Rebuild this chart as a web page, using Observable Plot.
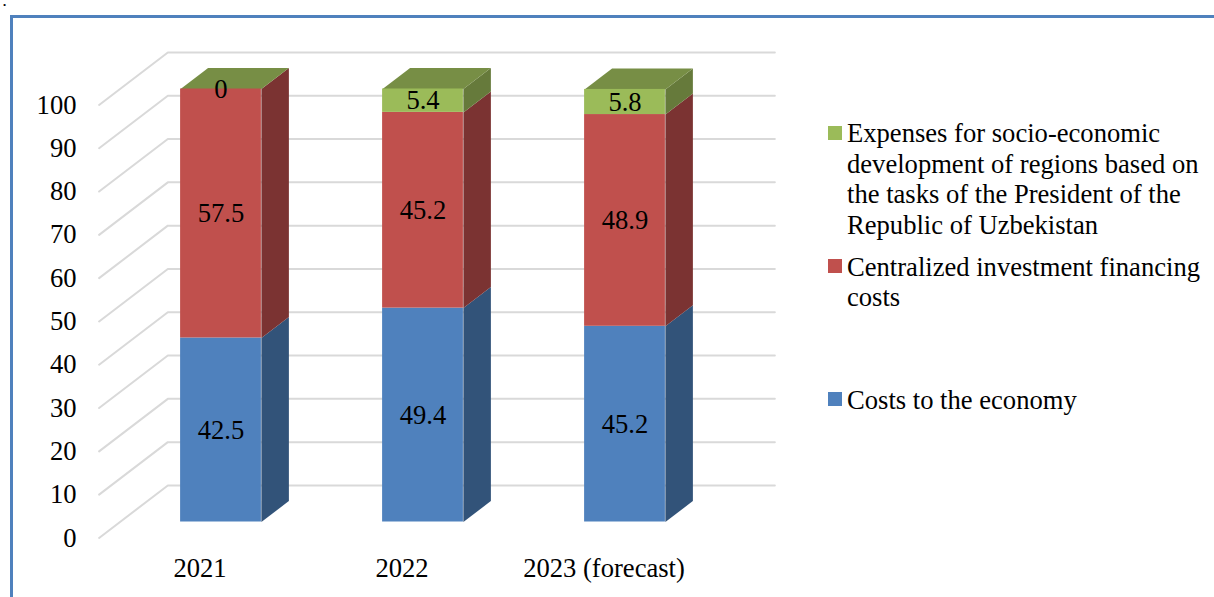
<!DOCTYPE html>
<html>
<head>
<meta charset="utf-8">
<script src="https://cdn.jsdelivr.net/npm/d3@7"></script>
<script src="https://cdn.jsdelivr.net/npm/@observablehq/plot@0.6"></script>
<style>
  html, body { margin: 0; padding: 0; background: #fff; overflow: hidden; }
  #page { position: relative; width: 1214px; height: 597px; overflow: hidden;
          font-family: "Liberation Serif", serif; color: #000; }
  #frame { position: absolute; left: 10px; top: 15px; right: -10px; bottom: -10px;
           border-left: 3px solid #4f81bd; border-top: 3px solid #4f81bd; }
  #chart { position: absolute; left: 0; top: 0; }
  .mark-dot { position: absolute; left: 3px; top: 0; font-size: 9px; line-height: 10px; }
  .entry { position: absolute; left: 847px; font-size: 26.6px; line-height: 30.7px; white-space: nowrap; }
  .swatch { position: absolute; left: 828px; width: 14px; height: 14px; }
</style>
</head>
<body>
<div id="page">
  <div id="frame"></div>
  <div class="mark-dot">•</div>
  <div id="chart"></div>
</div>
<script>
const years = ["2021", "2022", "2023 (forecast)"];
const yearIndex = [0, 1, 2];
const costsToEconomy = [42.5, 49.4, 45.2];
const investmentFinancing = [57.5, 45.2, 48.9];
const regionalDevelopment = [0, 5.4, 5.8];
const yTicks = [0, 10, 20, 30, 40, 50, 60, 70, 80, 90, 100];

const seriesNames = [
  "Costs to the economy",
  "Centralized investment financing costs",
  "Expenses for socio-economic development of regions based on the tasks of the President of the Republic of Uzbekistan"
];
const seriesValues = [costsToEconomy, investmentFinancing, regionalDevelopment];
const frontColors = ["#4f81bd", "#c0504d", "#9bbb59"];
const sideColors = ["#325379", "#7b3332", "#667a3b"];
const topColor = "#778e45";

// Oblique projection: one unit of depth moves a point right along x and up along y.
const depthX = 0.1361;
const depthY = 4.85;
const halfBar = 0.2;
const at = (i, v, d) => ({x: i + d * depthX, y: v + d * depthY});

// Cumulative segments for each column.
const segments = [];
yearIndex.forEach((i) => {
  let base = 0;
  seriesValues.forEach((values, s) => {
    segments.push({i, s, value: values[i], y1: base, y2: base + values[i]});
    base += values[i];
  });
});

// Polygon vertices for the right side of each segment and the top of each column.
const faces = [];
segments.forEach((g) => {
  if (g.value === 0) return;
  const r = g.i + halfBar;
  [at(r, g.y1, 0), at(r, g.y1, 1), at(r, g.y2, 1), at(r, g.y2, 0)].forEach((p) =>
    faces.push({...p, key: `side-${g.i}-${g.s}`, fill: sideColors[g.s]})
  );
});
yearIndex.forEach((i) => {
  const total = d3.sum(seriesValues, (values) => values[i]);
  [at(i - halfBar, total, 0), at(i - halfBar, total, 1), at(i + halfBar, total, 1), at(i + halfBar, total, 0)].forEach((p) =>
    faces.push({...p, key: `top-${i}`, fill: topColor})
  );
});

// Gridlines run up the side wall from the front edge, then along the back wall.
const grid = yTicks.flatMap((v) => [
  {...at(-0.5, v, -0.76), v},
  {...at(-0.5, v, 1.74), v},
  {...at(2.505, v, 1.74), v}
]);

const chart = Plot.plot({
  width: 1214,
  height: 597,
  marginLeft: 76,
  marginBottom: 39,
  style: {fontFamily: "'Liberation Serif', serif", fontSize: "26.6px", background: "transparent", color: "#000"},
  x: {domain: [0, 2], range: [220.5, 624.5]},
  y: {domain: [0, 100], range: [521.5, 88.5]},
  marks: [
    Plot.line(grid, {x: "x", y: "y", z: "v", stroke: "#d9d9d9", strokeWidth: 2, curve: "linear"}),
    Plot.line(faces, {x: "x", y: "y", z: "key", fill: "fill", stroke: "none", curve: "linear"}),
    Plot.rect(segments.filter((g) => g.value > 0), {
      x1: (g) => g.i - halfBar,
      x2: (g) => g.i + halfBar,
      y1: "y1",
      y2: "y2",
      fill: (g) => frontColors[g.s]
    }),
    Plot.text(segments, {
      x: "i",
      y: (g) => (g.y1 + g.y2) / 2,
      text: (g) => String(g.value),
      dy: 0,
      fill: "#000"
    }),
    Plot.axisY({anchor: "left", ticks: yTicks, tickSize: 0, tickPadding: 0, dy: 16, label: null}),
    Plot.axisX({anchor: "bottom", ticks: yearIndex, tickFormat: (i) => years[i], tickSize: 0, tickPadding: 0, dx: -21, label: null})
  ]
});
document.getElementById("chart").append(chart);

// Legend, listed top to bottom as the stack is drawn.
const legend = [
  {lines: ["Expenses for socio-economic", "development of regions based on", "the tasks of the President of the", "Republic of Uzbekistan"], color: frontColors[2], top: 118, swatch: 126},
  {lines: ["Centralized investment financing", "costs"], color: frontColors[1], top: 251.5, swatch: 259},
  {lines: [seriesNames[0]], color: frontColors[0], top: 385, swatch: 392}
];
const page = document.getElementById("page");
legend.forEach((e) => {
  const sw = document.createElement("div");
  sw.className = "swatch";
  sw.style.top = e.swatch + "px";
  sw.style.background = e.color;
  page.append(sw);
  const t = document.createElement("div");
  t.className = "entry";
  t.style.top = e.top + "px";
  t.innerHTML = e.lines.join("<br>");
  page.append(t);
});
</script>
</body>
</html>
